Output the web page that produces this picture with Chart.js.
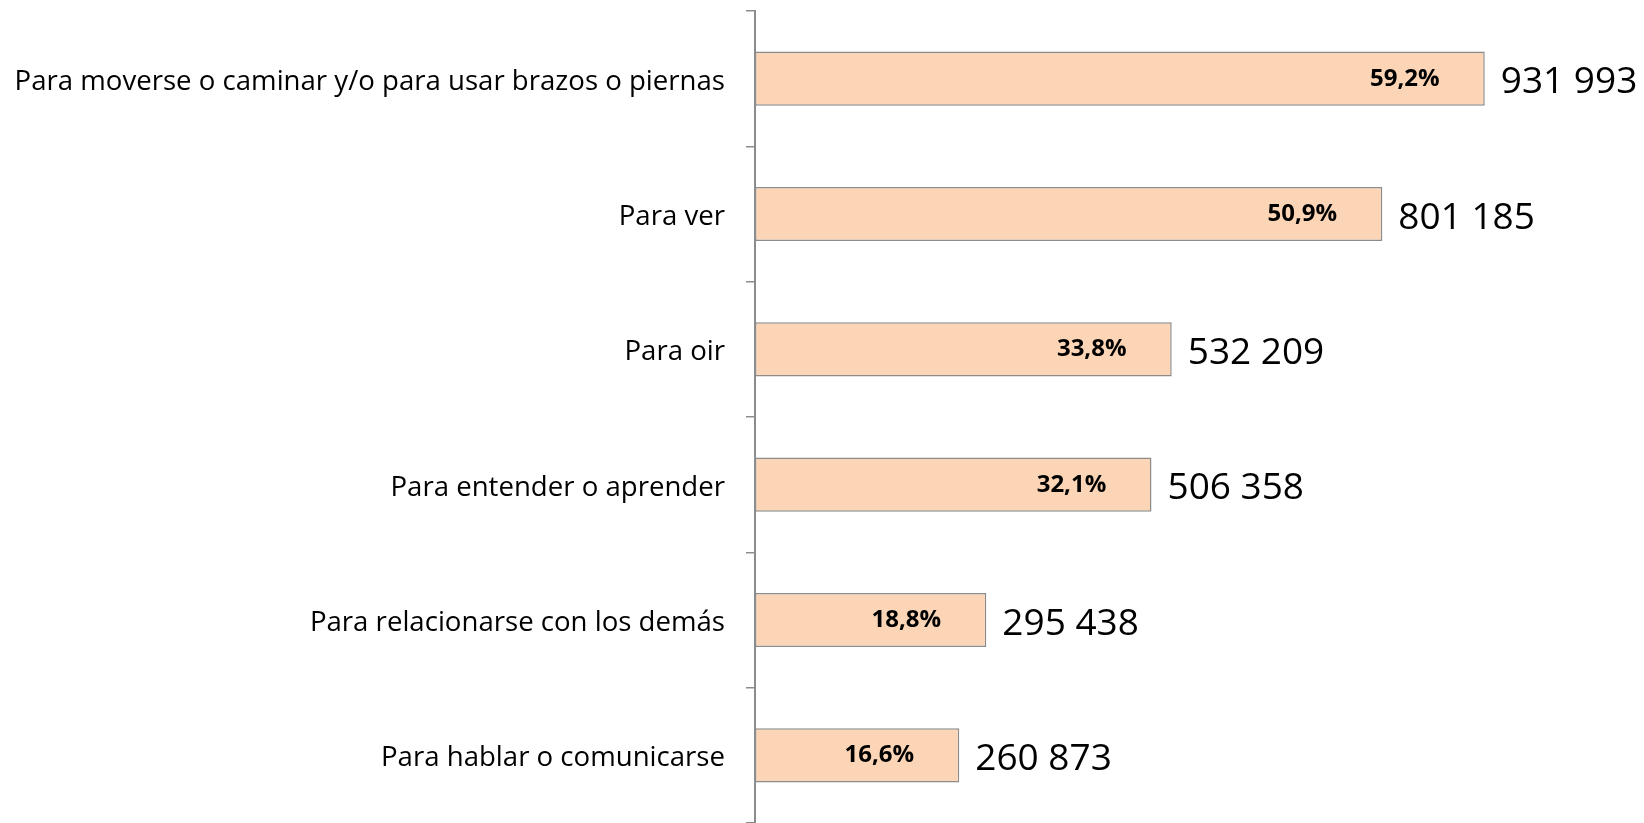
<!DOCTYPE html>
<html>
<head>
<meta charset="utf-8">
<script src="https://cdn.jsdelivr.net/npm/chart.js@4.4.1/dist/chart.umd.min.js"></script>
<style>
  html, body { margin: 0; padding: 0; background: #fff; }
  #wrap { width: 1644px; height: 823px; position: relative; }
</style>
</head>
<body>
<div id="wrap"><canvas id="chart"></canvas></div>
<script>
const categories = [
  'Para moverse o caminar y/o para usar brazos o piernas',
  'Para ver',
  'Para oir',
  'Para entender o aprender',
  'Para relacionarse con los demás',
  'Para hablar o comunicarse'
];
const values = [931993, 801185, 532209, 506358, 295438, 260873];
const valueLabels = ['931 993', '801 185', '532 209', '506 358', '295 438', '260 873'];
const percentLabels = ['59,2%', '50,9%', '33,8%', '32,1%', '18,8%', '16,6%'];

const FONT = "'Open Sans', 'Noto Sans', sans-serif";

// etiquetas: porcentaje dentro de la barra y total a la derecha
const labelPlugin = {
  id: 'barLabels',
  afterDatasetsDraw(chart) {
    const ctx = chart.ctx;
    const meta = chart.getDatasetMeta(0);
    ctx.save();
    ctx.textBaseline = 'middle';
    meta.data.forEach((bar, i) => {
      ctx.fillStyle = '#000';
      ctx.font = 'bold 24px ' + FONT;
      ctx.textAlign = 'center';
      ctx.fillText(percentLabels[i], bar.x - 80, bar.y);
      ctx.font = '37px ' + FONT;
      ctx.textAlign = 'left';
      ctx.fillText(valueLabels[i], bar.x + 16, bar.y + 4);
    });
    ctx.restore();
  }
};

new Chart(document.getElementById('chart').getContext('2d'), {
  type: 'bar',
  data: {
    labels: categories,
    datasets: [{
      data: values,
      backgroundColor: '#FBD5B5',
      borderColor: '#8C8C8C',
      borderWidth: 1.5,
      borderSkipped: false,
      barPercentage: 0.4,
      categoryPercentage: 1
    }]
  },
  options: {
    indexAxis: 'y',
    responsive: true,
    maintainAspectRatio: false,
    animation: false,
    layout: { padding: { top: 11, right: 106, bottom: 0, left: 0 } },
    plugins: { legend: { display: false }, tooltip: { enabled: false } },
    scales: {
      x: { display: false, min: 0, max: 1000000 },
      y: {
        afterFit(scale) {
          scale.width = 755;
          scale.paddingTop = 0;
          scale.paddingBottom = 0;
        },
        border: { color: '#8C8C8C', width: 2 },
        grid: { offset: true, drawOnChartArea: false, tickLength: 9, color: '#8C8C8C', lineWidth: 1.5 },
        ticks: { color: '#000', font: { family: FONT, size: 27.6 }, padding: 21, labelOffset: 3 }
      }
    }
  },
  plugins: [labelPlugin]
});
</script>
</body>
</html>
